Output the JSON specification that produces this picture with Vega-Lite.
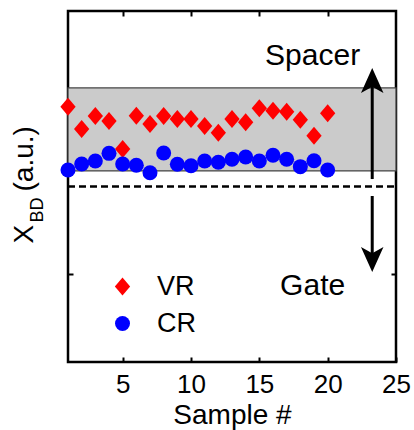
{
  "$schema": "https://vega.github.io/schema/vega-lite/v6.json",
  "width": 328,
  "height": 351,
  "autosize": {"type": "none"},
  "padding": {"left": 68, "top": 11, "right": 18, "bottom": 68},
  "config": {
    "view": {"stroke": "black", "strokeWidth": 2.5},
    "font": "Liberation Sans",
    "axis": {
      "grid": false,
      "domain": false,
      "tickColor": "black",
      "tickWidth": 2,
      "tickSize": -5,
      "labelFont": "Liberation Sans",
      "titleFont": "Liberation Sans",
      "labelColor": "black",
      "titleColor": "black",
      "titleFontWeight": "normal"
    }
  },
  "resolve": {"axis": {"x": "independent", "y": "independent"}},
  "layer": [
    {
      "data": {"values": [{"x": 1, "x2": 25, "y": 0.177, "y2": 1.123}]},
      "mark": {"type": "rect", "fill": "#cbcbcb", "stroke": "#444444", "strokeWidth": 1.3},
      "encoding": {
        "x": {
          "field": "x", "type": "quantitative",
          "scale": {"domain": [1, 25], "nice": false, "zero": false},
          "axis": {
            "orient": "bottom", "values": [5, 10, 15, 20, 25],
            "labelFontSize": 26, "labelPadding": 35, "labelBaseline": "alphabetic",
            "labelFlush": false, "labelOverlap": false,
            "title": "Sample #", "titleFontSize": 28, "titleBaseline": "alphabetic", "titleY": 61
          }
        },
        "x2": {"field": "x2"},
        "y": {
          "field": "y", "type": "quantitative",
          "scale": {"domain": [-2, 2], "nice": false, "zero": false},
          "axis": {
            "orient": "left", "values": [-1], "labels": false,
            "title": "X", "titleFontSize": 28, "titleAngle": 270, "titleAlign": "left",
            "titleBaseline": "alphabetic", "titleX": -36, "titleY": 232
          }
        },
        "y2": {"field": "y2"}
      }
    },
    {
      "data": {"values": [{"x": 1, "x2": 25, "y": 0}]},
      "mark": {"type": "rule", "strokeDash": [7, 4], "strokeWidth": 2.5, "color": "black"},
      "encoding": {
        "x": {
          "field": "x", "type": "quantitative",
          "scale": {"domain": [1, 25], "nice": false, "zero": false},
          "axis": {"orient": "top", "values": [5, 10, 15, 20], "labels": false, "title": null}
        },
        "x2": {"field": "x2"},
        "y": {
          "field": "y", "type": "quantitative",
          "scale": {"domain": [-2, 2], "nice": false, "zero": false},
          "axis": {"orient": "right", "values": [-1], "labels": false, "title": null}
        }
      }
    },
    {
      "data": {"values": [
        {"sample": 1, "series": "VR", "value": 0.909},
        {"sample": 2, "series": "VR", "value": 0.655},
        {"sample": 3, "series": "VR", "value": 0.803},
        {"sample": 4, "series": "VR", "value": 0.746},
        {"sample": 5, "series": "VR", "value": 0.427},
        {"sample": 6, "series": "VR", "value": 0.807},
        {"sample": 7, "series": "VR", "value": 0.712},
        {"sample": 8, "series": "VR", "value": 0.803},
        {"sample": 9, "series": "VR", "value": 0.769},
        {"sample": 10, "series": "VR", "value": 0.769},
        {"sample": 11, "series": "VR", "value": 0.689},
        {"sample": 12, "series": "VR", "value": 0.613},
        {"sample": 13, "series": "VR", "value": 0.769},
        {"sample": 14, "series": "VR", "value": 0.732},
        {"sample": 15, "series": "VR", "value": 0.891},
        {"sample": 16, "series": "VR", "value": 0.864},
        {"sample": 17, "series": "VR", "value": 0.852},
        {"sample": 18, "series": "VR", "value": 0.761},
        {"sample": 19, "series": "VR", "value": 0.579},
        {"sample": 20, "series": "VR", "value": 0.834},
        {"sample": 1, "series": "CR", "value": 0.188},
        {"sample": 2, "series": "CR", "value": 0.256},
        {"sample": 3, "series": "CR", "value": 0.291},
        {"sample": 4, "series": "CR", "value": 0.378},
        {"sample": 5, "series": "CR", "value": 0.256},
        {"sample": 6, "series": "CR", "value": 0.242},
        {"sample": 7, "series": "CR", "value": 0.157},
        {"sample": 8, "series": "CR", "value": 0.382},
        {"sample": 9, "series": "CR", "value": 0.253},
        {"sample": 10, "series": "CR", "value": 0.237},
        {"sample": 11, "series": "CR", "value": 0.291},
        {"sample": 12, "series": "CR", "value": 0.276},
        {"sample": 13, "series": "CR", "value": 0.310},
        {"sample": 14, "series": "CR", "value": 0.336},
        {"sample": 15, "series": "CR", "value": 0.291},
        {"sample": 16, "series": "CR", "value": 0.356},
        {"sample": 17, "series": "CR", "value": 0.310},
        {"sample": 18, "series": "CR", "value": 0.226},
        {"sample": 19, "series": "CR", "value": 0.294},
        {"sample": 20, "series": "CR", "value": 0.188}
      ]},
      "mark": {"type": "point", "filled": true, "opacity": 1},
      "encoding": {
        "x": {
          "field": "sample", "type": "quantitative",
          "scale": {"domain": [1, 25], "nice": false, "zero": false},
          "axis": null
        },
        "y": {
          "field": "value", "type": "quantitative",
          "scale": {"domain": [-2, 2], "nice": false, "zero": false},
          "axis": {
            "orient": "left", "ticks": false, "labels": false,
            "title": "BD", "titleFontSize": 18, "titleAngle": 270, "titleAlign": "left",
            "titleBaseline": "alphabetic", "titleX": -26, "titleY": 211
          }
        },
        "color": {
          "field": "series", "type": "nominal",
          "scale": {"domain": ["VR", "CR"], "range": ["#ff0000", "#0000ff"]},
          "legend": {
            "orient": "none", "legendX": 41, "legendY": 262, "title": null,
            "labelFontSize": 27, "labelFont": "Liberation Sans", "labelColor": "black",
            "rowPadding": 9, "labelOffset": 21, "padding": 0,
            "symbolStrokeWidth": 0, "symbolOpacity": 1
          }
        },
        "shape": {
          "field": "series", "type": "nominal",
          "scale": {"domain": ["VR", "CR"], "range": ["M0,-1 L0.85,0 L0,1 L-0.85,0 Z", "circle"]}
        },
        "size": {
          "field": "series", "type": "nominal",
          "scale": {"domain": ["VR", "CR"], "range": [324, 225]}
        }
      }
    },
    {
      "data": {"values": [
        {"x": 23.26, "y": 0.085, "y2": 1.15},
        {"x": 23.26, "y": -0.108, "y2": -0.78}
      ]},
      "mark": {"type": "rule", "strokeWidth": 3, "color": "black"},
      "encoding": {
        "x": {
          "field": "x", "type": "quantitative",
          "scale": {"domain": [1, 25], "nice": false, "zero": false},
          "axis": null
        },
        "y": {
          "field": "y", "type": "quantitative",
          "scale": {"domain": [-2, 2], "nice": false, "zero": false},
          "axis": {
            "orient": "left", "ticks": false, "labels": false,
            "title": "(a.u.)", "titleFontSize": 28, "titleAngle": 270, "titleAlign": "left",
            "titleBaseline": "alphabetic", "titleX": -36, "titleY": 180
          }
        },
        "y2": {"field": "y2"}
      }
    },
    {
      "data": {"values": [
        {"x": 23.26, "y": 1.208, "ang": 0},
        {"x": 23.26, "y": -0.832, "ang": 180}
      ]},
      "mark": {"type": "point", "filled": true, "opacity": 1, "color": "black", "size": 625, "shape": "M0,-1 L0.9,1 L0,0.5 L-0.9,1 Z"},
      "encoding": {
        "x": {
          "field": "x", "type": "quantitative",
          "scale": {"domain": [1, 25], "nice": false, "zero": false},
          "axis": null
        },
        "y": {
          "field": "y", "type": "quantitative",
          "scale": {"domain": [-2, 2], "nice": false, "zero": false},
          "axis": null
        },
        "angle": {"field": "ang", "type": "quantitative", "scale": null}
      }
    },
    {
      "data": {"values": [
        {"x": 18.9, "y": 1.385, "label": "Spacer"},
        {"x": 18.9, "y": -1.236, "label": "Gate"}
      ]},
      "mark": {"type": "text", "fontSize": 30, "font": "Liberation Sans", "align": "center", "baseline": "alphabetic", "color": "black"},
      "encoding": {
        "x": {
          "field": "x", "type": "quantitative",
          "scale": {"domain": [1, 25], "nice": false, "zero": false},
          "axis": null
        },
        "y": {
          "field": "y", "type": "quantitative",
          "scale": {"domain": [-2, 2], "nice": false, "zero": false},
          "axis": null
        },
        "text": {"field": "label", "type": "nominal"}
      }
    }
  ]
}
